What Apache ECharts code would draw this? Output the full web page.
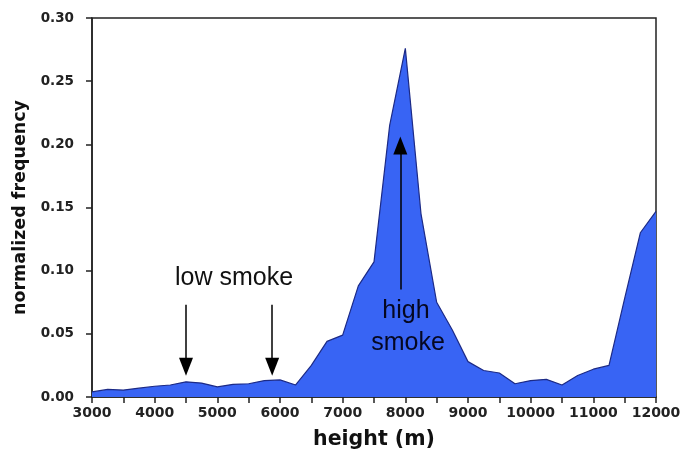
<!DOCTYPE html>
<html>
<head>
<meta charset="utf-8">
<script src="https://cdn.jsdelivr.net/npm/echarts@6/dist/echarts.min.js"></script>
<style>
  html,body{margin:0;padding:0;background:#fff;}
  #chart{width:680px;height:468px;}
</style>
</head>
<body>
<div id="chart"></div>
<script>
var heights = [3000,3250,3500,3750,4000,4250,4500,4750,5000,5250,5500,5750,6000,6250,6500,6750,7000,7250,7500,7750,8000,8250,8500,8750,9000,9250,9500,9750,10000,10250,10500,10750,11000,11250,11500,11750,12000];
var freq = [0.004,0.006,0.0055,0.007,0.0085,0.0095,0.012,0.011,0.008,0.010,0.0105,0.013,0.0135,0.0095,0.025,0.044,0.049,0.088,0.107,0.215,0.276,0.145,0.075,0.053,0.028,0.021,0.019,0.0105,0.013,0.014,0.0095,0.017,0.022,0.025,0.078,0.130,0.147];
var lowArrows = [4500, 5875];
var highArrow = 7920;

var chart = echarts.init(document.getElementById('chart'));
var points = heights.map(function(h, i){ return [h, freq[i]]; });

// arrows drawn in data coords so they sit on the axes' scale
var arrowLines = lowArrows.map(function(h){
  return [{coord:[h,0.073]},{coord:[h,0.024]}];
});
arrowLines.push([{coord:[highArrow,0.085]},{coord:[highArrow,0.199]}]);

var tickFont = {fontFamily:'DejaVu Sans', fontWeight:'bold', fontSize:13.5, color:'#222'};

chart.setOption({
  animation:false,
  grid:{
    left:92, right:24, top:18, bottom:71,
    outerBoundsMode:'none',
    show:true, borderColor:'#222', borderWidth:1.5
  },
  xAxis:{
    type:'value', min:3000, max:12000, interval:500,
    name:'height (m)', nameLocation:'middle', nameGap:32,
    nameTextStyle:{fontFamily:'DejaVu Sans', fontWeight:'bold', fontSize:20.5, color:'#111'},
    axisLine:{lineStyle:{color:'#222', width:1.5}},
    axisTick:{show:true, length:6, lineStyle:{color:'#222', width:1.5}},
    axisLabel:Object.assign({margin:9, formatter:function(v){ return v % 1000 === 0 ? String(v) : ''; }}, tickFont, {fontSize:14}),
    splitLine:{show:false}
  },
  yAxis:{
    type:'value', min:0, max:0.30, interval:0.05,
    name:'normalized frequency', nameLocation:'middle', nameGap:61,
    nameTextStyle:{fontFamily:'DejaVu Sans', fontWeight:'bold', fontSize:17.5, color:'#111'},
    axisLine:{show:true, lineStyle:{color:'#222', width:1.5}},
    axisTick:{show:true, length:6, lineStyle:{color:'#222', width:1.5}},
    axisLabel:Object.assign({margin:18, formatter:function(v){ return v.toFixed(2); }}, tickFont),
    splitLine:{show:false}
  },
  series:[{
    type:'line',
    data:points,
    symbol:'none',
    lineStyle:{color:'#1c2a86', width:1.2},
    areaStyle:{color:'#3864f4', opacity:1},
    markLine:{
      silent:true,
      symbol:['none','triangle'],
      symbolSize:[14,18],
      label:{show:false},
      lineStyle:{color:'#000', width:1.5, type:'solid'},
      data:arrowLines
    }
  }],
  graphic:[
    {type:'text', z:100, style:{text:'low smoke', x:234, y:278, fill:'#111', font:'25px Arial', textAlign:'center', textVerticalAlign:'middle'}},
    {type:'text', z:100, style:{text:'high', x:406, y:311, fill:'#050720', font:'25px Arial', textAlign:'center', textVerticalAlign:'middle'}},
    {type:'text', z:100, style:{text:'smoke', x:408, y:343, fill:'#050720', font:'25px Arial', textAlign:'center', textVerticalAlign:'middle'}}
  ]
});
</script>
</body>
</html>
